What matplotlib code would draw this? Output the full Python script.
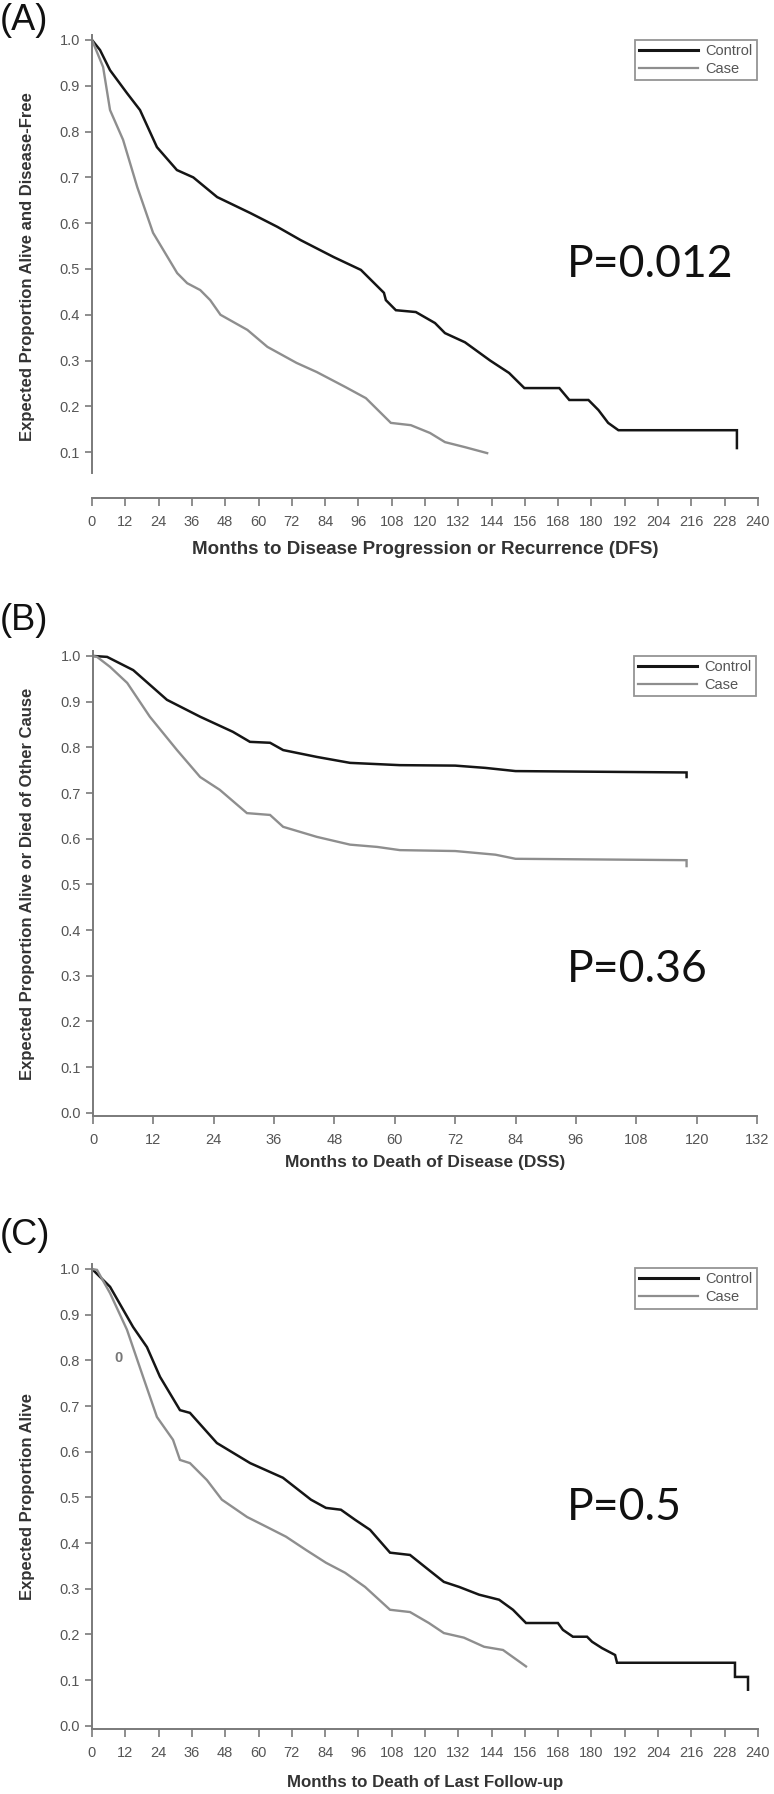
import matplotlib.pyplot as plt
from matplotlib.lines import Line2D

# ---- values (months, survival proportion) ----
# (A) disease-free survival
a_ctrl_t = [0, 2.9, 6.5, 12.6, 17.3, 23.4, 30.6, 36.5, 45.1, 57.1, 66.8, 75.2, 87.1, 96.9,
            105.2, 105.9, 109.5, 116.7, 123.6, 127.2, 134.4, 143.5, 150.3, 155.8, 168.4,
            172.0, 178.9, 182.5, 186.0, 189.7, 232.4, 232.4]
a_ctrl_s = [1.0, 0.978, 0.934, 0.884, 0.847, 0.766, 0.716, 0.70, 0.657, 0.622, 0.592, 0.563,
            0.526, 0.498, 0.448, 0.432, 0.41, 0.406, 0.382, 0.36, 0.34, 0.30, 0.273, 0.24,
            0.24, 0.214, 0.214, 0.192, 0.164, 0.148, 0.148, 0.109]
a_case_t = [0, 4.0, 6.5, 11.2, 16.3, 22.0, 30.7, 34.3, 39.0, 42.6, 46.3, 56.0, 63.2, 73.7,
            81.0, 91.4, 98.7, 107.7, 114.9, 121.8, 127.2, 134.4, 142.4]
a_case_s = [1.0, 0.941, 0.847, 0.782, 0.679, 0.579, 0.491, 0.469, 0.454, 0.432, 0.40, 0.367,
            0.33, 0.295, 0.275, 0.242, 0.218, 0.164, 0.159, 0.142, 0.122, 0.111, 0.098]

# (B) disease-specific survival
b_ctrl_t = [0, 2.8, 8.0, 14.7, 21.3, 27.8, 31.2, 35.2, 37.8, 44.5, 51.1, 61.0, 72.0, 78.0,
            84.0, 118.0, 118.0]
b_ctrl_s = [1.0, 0.998, 0.969, 0.904, 0.867, 0.834, 0.812, 0.81, 0.794, 0.779, 0.766, 0.761,
            0.76, 0.755, 0.748, 0.745, 0.735]
b_case_t = [0, 0.8, 3.4, 6.8, 11.3, 16.7, 21.3, 25.2, 30.6, 35.2, 37.8, 44.5, 51.1, 56.5,
            61.0, 72.0, 80.0, 84.0, 118.0, 118.0]
b_case_s = [1.0, 0.998, 0.976, 0.941, 0.867, 0.794, 0.735, 0.707, 0.656, 0.652, 0.626, 0.604,
            0.587, 0.582, 0.575, 0.573, 0.565, 0.556, 0.553, 0.54]

# (C) overall survival
c_ctrl_t = [0, 6.5, 14.8, 19.8, 24.5, 31.7, 35.3, 45.0, 57.0, 68.8, 78.9, 84.3, 89.7, 94.8,
            100.2, 107.4, 114.6, 121.4, 126.8, 132.3, 139.5, 146.7, 151.7, 156.4, 167.9,
            169.7, 173.3, 178.4, 180.2, 183.8, 188.5, 189.2, 231.7, 231.7, 236.4, 236.4]
c_ctrl_s = [1.0, 0.961, 0.873, 0.829, 0.764, 0.691, 0.685, 0.619, 0.575, 0.543, 0.495, 0.477,
            0.473, 0.451, 0.429, 0.379, 0.374, 0.341, 0.315, 0.304, 0.287, 0.276, 0.254,
            0.225, 0.225, 0.21, 0.195, 0.195, 0.184, 0.17, 0.155, 0.138, 0.138, 0.107,
            0.107, 0.079]
c_case_t = [0, 1.8, 6.5, 12.6, 18.4, 23.4, 29.2, 31.7, 35.3, 41.4, 46.8, 55.9, 63.1, 69.9,
            77.1, 84.3, 91.2, 98.4, 107.4, 114.6, 121.4, 126.8, 134.0, 141.3, 148.1, 156.4]
c_case_s = [1.0, 0.998, 0.947, 0.867, 0.764, 0.676, 0.626, 0.582, 0.575, 0.538, 0.495, 0.457,
            0.435, 0.414, 0.385, 0.357, 0.335, 0.304, 0.254, 0.249, 0.225, 0.203, 0.193,
            0.173, 0.166, 0.13]

series_names = ["Control", "Case"]
panel_letters = ["(A)", "(B)", "(C)"]
x_labels = ["Months to Disease Progression or Recurrence (DFS)",
            "Months to Death of Disease (DSS)",
            "Months to Death of Last Follow-up"]
y_labels = ["Expected Proportion Alive and Disease-Free",
            "Expected Proportion Alive or Died of Other Cause",
            "Expected Proportion Alive"]
p_values = ["P=0.012", "P=0.36", "P=0.5"]
x_max = [240, 132, 240]

W, H = 774, 1794
fig = plt.figure(figsize=(W / 100, H / 100), dpi=100)

sans = ["Liberation Sans", "DejaVu Sans"]
ctrl_color = "#151515"
case_color = "#8e8e8e"
axis_color = "#7a7a7a"
text_color = "#555555"


def px_axes(left, top, right, bottom):
    return fig.add_axes([left / W, 1 - bottom / H, (right - left) / W, (bottom - top) / H])


# pixel boxes of each plot area and y limits
boxes = [(92, 35.4, 758, 498), (93, 651.4, 757, 1116), (92, 1264.4, 758, 1729)]
ylims = [(0, 1.01), (-0.007, 1.01), (-0.007, 1.01)]
curves = [(a_ctrl_t, a_ctrl_s, a_case_t, a_case_s),
          (b_ctrl_t, b_ctrl_s, b_case_t, b_case_s),
          (c_ctrl_t, c_ctrl_s, c_case_t, c_case_s)]
letter_y = [3, 603, 1218]
xlabel_y = [549, 1162, 1782]
xlabel_size = [13.5, 12.5, 12.2]
p_baseline = [277, 982, 1520]
legend_top = [0.99, 0.99, 0.992]

for i in range(3):
    left, top, right, bottom = boxes[i]
    ax = px_axes(left, top, right, bottom)
    ct, cs, kt, ks = curves[i]
    ax.plot(ct, cs, color=ctrl_color, lw=1.8, solid_joinstyle="miter")
    ax.plot(kt, ks, color=case_color, lw=1.7, solid_joinstyle="miter")

    ax.set_xlim(0, x_max[i])
    ax.set_ylim(*ylims[i])
    ax.set_xticks(range(0, x_max[i] + 1, 12))
    if i == 0:
        ax.set_yticks([k / 10 for k in range(1, 11)])
        ax.spines["left"].set_bounds(0.055, 1.01)
    else:
        ax.set_yticks([k / 10 for k in range(0, 11)])
    ax.set_yticklabels([f"{v:.1f}" for v in ax.get_yticks()])

    for s in ["top", "right"]:
        ax.spines[s].set_visible(False)
    for s in ["left", "bottom"]:
        ax.spines[s].set_color(axis_color)
        ax.spines[s].set_linewidth(1.4)
    ax.tick_params(colors=axis_color, width=1.2, length=5, labelcolor=text_color,
                   labelsize=10.5)
    ax.tick_params(axis="x", pad=6, length=6)
    for lab in ax.get_xticklabels() + ax.get_yticklabels():
        lab.set_family(sans)

    handles = [Line2D([], [], color=ctrl_color, lw=2.2),
               Line2D([], [], color=case_color, lw=1.6)]
    leg = ax.legend(handles, series_names, loc="upper right",
                    bbox_to_anchor=(0.998, legend_top[i]), frameon=True, fancybox=False,
                    edgecolor=axis_color, handlelength=4.0,
                    handletextpad=0.5, labelspacing=0.25, borderpad=0.3,
                    borderaxespad=0, prop={"family": sans, "size": 10.5})
    leg.get_frame().set_linewidth(1.3)
    for t in leg.get_texts():
        t.set_color(text_color)

    fig.text(0, 1 - letter_y[i] / H, panel_letters[i], ha="left", va="top",
             fontsize=26, family=sans, color="#111111")
    fig.text(425 / W, 1 - xlabel_y[i] / H, x_labels[i], ha="center", va="center",
             fontsize=xlabel_size[i], fontweight="bold", family=sans, color="#333333")
    fig.text(28 / W, 1 - (top + bottom) / 2 / H, y_labels[i], ha="center", va="center",
             rotation=90, fontsize=12, fontweight="bold", family=sans, color="#333333")
    fig.text(567 / W, 1 - p_baseline[i] / H, p_values[i], ha="left", va="baseline",
             fontsize=32, family=["Lato", "DejaVu Sans"], color="#111111")

# small stray label in panel C
fig.text(119 / W, 1 - 1358 / H, "0", ha="center", va="center", fontsize=10.5,
         fontweight="bold", family=sans, color="#777777")

fig.savefig("out.png", dpi=100)
